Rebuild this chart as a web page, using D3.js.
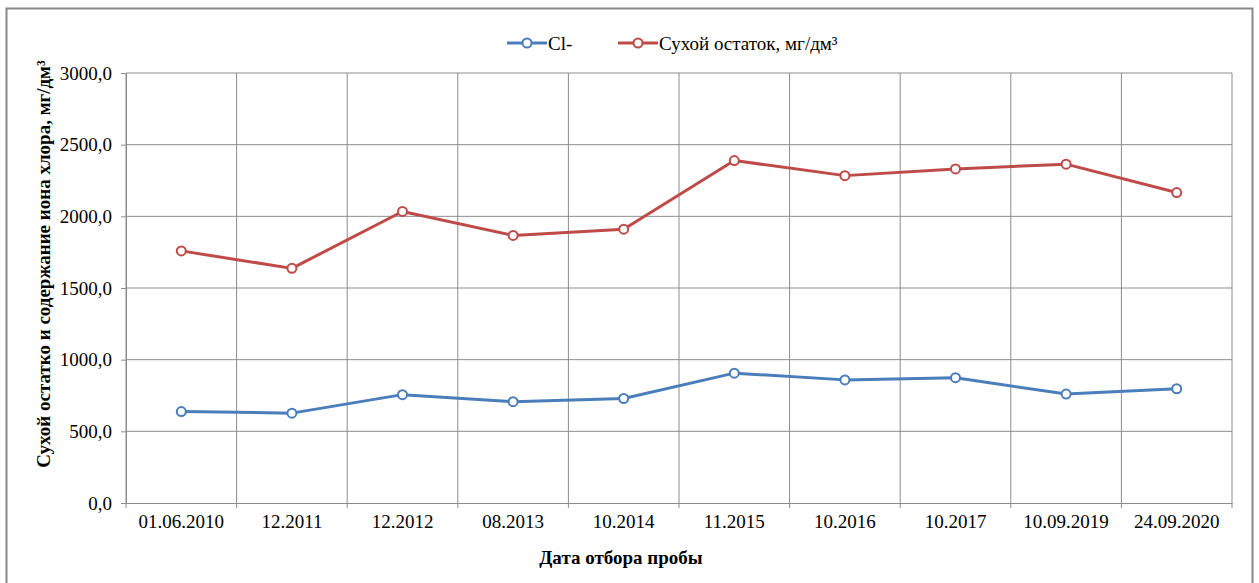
<!DOCTYPE html>
<html><head><meta charset="utf-8">
<script src="https://cdn.jsdelivr.net/npm/d3@7"></script>
<style>body{margin:0;background:#fff}</style>
</head><body><svg id="c" width="1259" height="583"></svg>
<script>
const categories = ["01.06.2010","12.2011","12.2012","08.2013","10.2014","11.2015","10.2016","10.2017","10.09.2019","24.09.2020"];
const chloride = [638, 627, 756, 707, 729, 906, 859, 874, 760, 797];
const dryResidue = [1759, 1637, 2034, 1867, 1910, 2389, 2284, 2331, 2364, 2166];
const yTicks = [0, 500, 1000, 1500, 2000, 2500, 3000];
const seriesNames = ["Cl-", "Сухой остаток, мг/дм³"];
const colors = ["#4a7ebb", "#be4b48"];

(function () {
const FONT = "'Liberation Serif', 'Times New Roman', 'DejaVu Serif', serif";
const svg = d3.select("#c");
const pL = 126, pR = 1232, pT = 73, pB = 503;

svg.append("rect").attr("x", 6.5).attr("y", 8.5).attr("width", 1246).attr("height", 590)
  .attr("fill", "#fff").attr("stroke", "#888").attr("stroke-width", 2);

const x = d3.scaleBand().domain(categories).range([pL, pR]);
const y = d3.scaleLinear().domain([0, 3000]).range([pB, pT]);

svg.append("g").selectAll("line").data(yTicks.filter(d => d > 0)).join("line")
  .attr("x1", pL).attr("x2", pR).attr("y1", d => y(d)).attr("y2", d => y(d))
  .attr("stroke", "#8c8c8c").attr("stroke-width", 1);
const bounds = categories.map(c => x(c)).concat([pR]);
svg.append("g").selectAll("line").data(bounds).join("line")
  .attr("x1", d => d).attr("x2", d => d).attr("y1", pT).attr("y2", pB)
  .attr("stroke", "#8c8c8c").attr("stroke-width", 1);

const yAxis = d3.axisLeft(y).tickValues(yTicks).tickSize(5).tickPadding(9)
  .tickFormat(d => d3.format(".1f")(d).replace(".", ","));
const gy = svg.append("g").attr("transform", `translate(${pL},0)`).call(yAxis);
gy.attr("font-family", null).attr("font-size", null);
gy.select(".domain").attr("stroke", "#8c8c8c");
gy.selectAll(".tick line").attr("stroke", "#8c8c8c");
gy.selectAll("text").style("font-family", FONT).style("font-size", "19px").attr("fill", "#000");

const xAxis = d3.axisBottom(x).tickSize(0).tickPadding(12);
const gx = svg.append("g").attr("transform", `translate(0,${pB})`).call(xAxis);
gx.attr("font-family", null).attr("font-size", null);
gx.select(".domain").attr("stroke", "#8c8c8c");
gx.selectAll("text").style("font-family", FONT).style("font-size", "19px").attr("fill", "#000");
gx.selectAll("line.bt").data(bounds).join("line").attr("class", "bt")
  .attr("x1", d => d).attr("x2", d => d).attr("y1", 0).attr("y2", 5).attr("stroke", "#8c8c8c");

svg.append("text").attr("transform", "translate(50,264) rotate(-90)").attr("text-anchor", "middle")
  .style("font-family", FONT).style("font-size", "19px").style("font-weight", "bold")
  .text("Сухой остатко и содержание иона хлора, мг/дм³");
svg.append("text").attr("x", 621).attr("y", 564).attr("text-anchor", "middle")
  .style("font-family", FONT).style("font-size", "19px").style("font-weight", "bold")
  .text("Дата отбора пробы");

const data = [chloride, dryResidue];
const line = d3.line().x((d, i) => x(categories[i]) + x.bandwidth() / 2).y(d => y(d));
data.forEach((s, k) => {
  svg.append("path").datum(s).attr("d", line).attr("fill", "none")
    .attr("stroke", colors[k]).attr("stroke-width", 3).attr("stroke-linejoin", "round");
  svg.append("g").selectAll("circle").data(s).join("circle")
    .attr("cx", (d, i) => x(categories[i]) + x.bandwidth() / 2).attr("cy", d => y(d)).attr("r", 4.5)
    .attr("fill", "#fff").attr("stroke", colors[k]).attr("stroke-width", 2);
});

const legX = [507, 618];
seriesNames.forEach((n, k) => {
  const g = svg.append("g").attr("transform", `translate(${legX[k]},43)`);
  g.append("line").attr("x1", 0).attr("x2", 40).attr("stroke", colors[k]).attr("stroke-width", 3);
  g.append("circle").attr("cx", 20).attr("r", 4.5).attr("fill", "#fff").attr("stroke", colors[k]).attr("stroke-width", 2);
  g.append("text").attr("x", 41).attr("y", 6.5).style("font-family", FONT).style("font-size", "19px").text(n);
});
})();
</script></body></html>
